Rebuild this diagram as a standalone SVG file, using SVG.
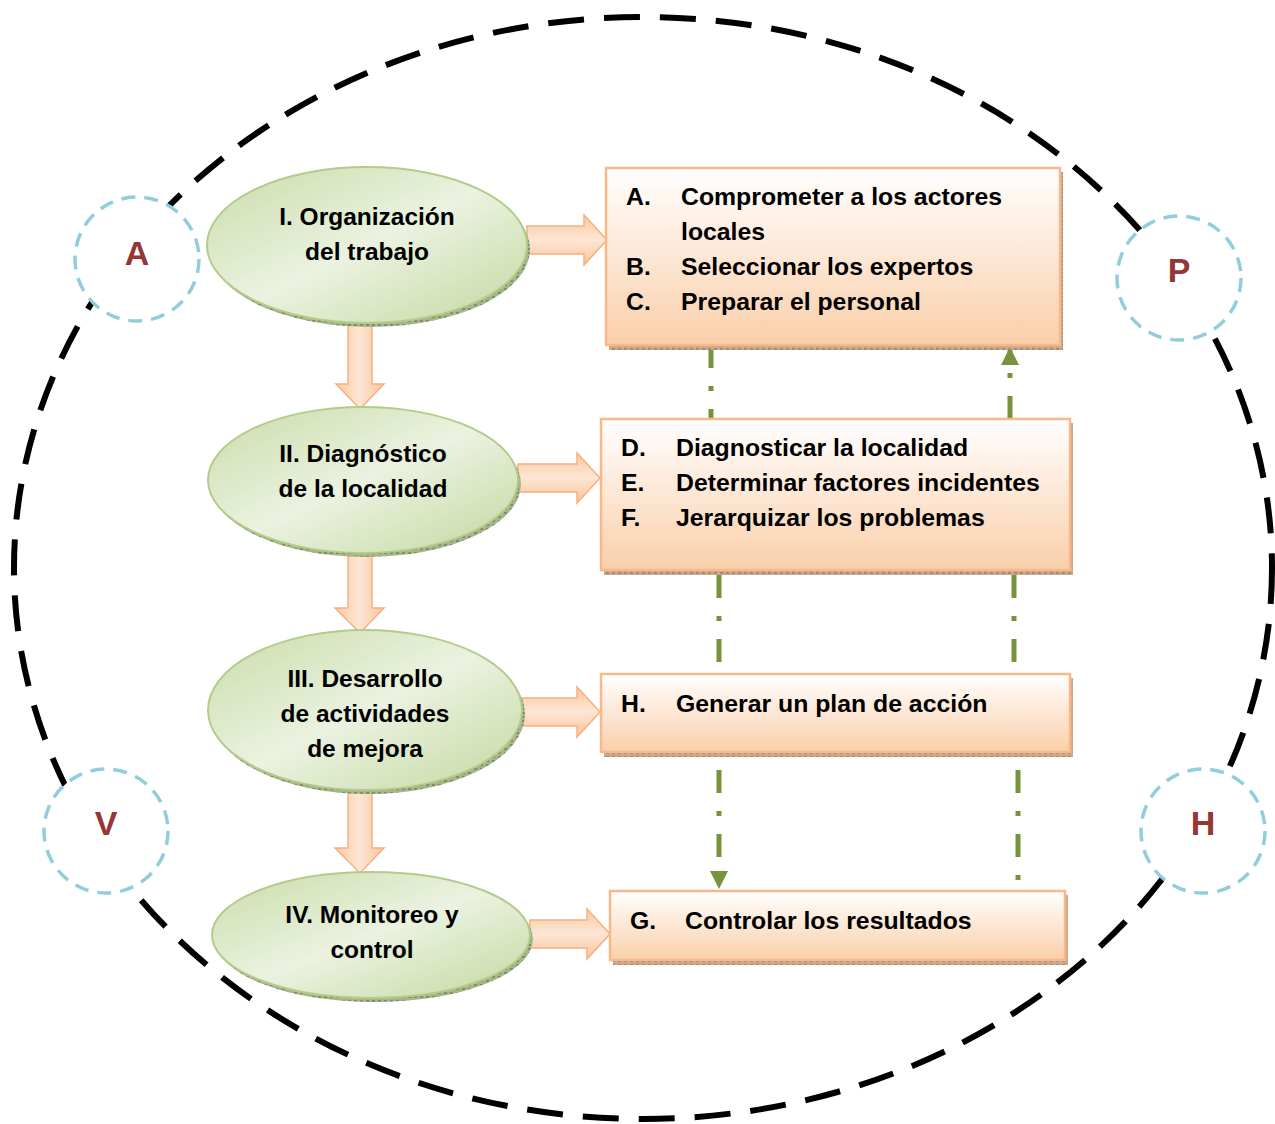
<svg xmlns="http://www.w3.org/2000/svg" width="1275" height="1124" viewBox="0 0 1275 1124">
<defs>
<linearGradient id="gEll" x1="0" y1="0" x2="1" y2="1">
<stop offset="0" stop-color="#c9dca8"/>
<stop offset="0.5" stop-color="#ebf2e0"/>
<stop offset="1" stop-color="#c4d89f"/>
</linearGradient>
<linearGradient id="gBox" x1="0" y1="0" x2="0" y2="1">
<stop offset="0" stop-color="#ffffff"/>
<stop offset="0.45" stop-color="#fde9d9"/>
<stop offset="1" stop-color="#f9cfa9"/>
</linearGradient>
<linearGradient id="gArrH" x1="0" y1="0" x2="0" y2="1">
<stop offset="0" stop-color="#f9c9a0"/>
<stop offset="0.5" stop-color="#fde6d4"/>
<stop offset="1" stop-color="#f9c39a"/>
</linearGradient>
<linearGradient id="gArrV" x1="0" y1="0" x2="1" y2="0">
<stop offset="0" stop-color="#f9c9a0"/>
<stop offset="0.5" stop-color="#fde6d4"/>
<stop offset="1" stop-color="#f9c39a"/>
</linearGradient>
<pattern id="tex" width="6" height="4" patternUnits="userSpaceOnUse">
<rect width="6" height="4" fill="#c9a98e"/>
<rect width="3" height="2" fill="#a88a70"/>
</pattern>
<pattern id="texG" width="6" height="4" patternUnits="userSpaceOnUse">
<rect width="6" height="4" fill="#a6b68a"/>
<rect width="3" height="2" fill="#7f8f68"/>
</pattern>
<marker id="mh" viewBox="0 0 10 10" refX="10" refY="5" markerWidth="3.6" markerHeight="3.6" orient="auto" markerUnits="strokeWidth">
<path d="M0,0 L10,5 L0,10 z" fill="#77933c"/>
</marker>
</defs>
<style>
.big{fill:none;stroke:#000;stroke-width:6;stroke-dasharray:36 20}
.circ{fill:#fff;stroke:#92cddc;stroke-width:3.5;stroke-dasharray:14 9}
.lbl{font-family:"Liberation Sans",Arial,sans-serif;font-weight:bold;font-size:34px;fill:#953735;text-anchor:middle}
.ell{fill:url(#gEll);stroke:#b3cc8a;stroke-width:2}
.ells{fill:url(#texG)}
.box{fill:url(#gBox);stroke:#f8b88a;stroke-width:2.5}
.boxs{fill:url(#tex)}
.t{font-family:"Liberation Sans",Arial,sans-serif;font-weight:bold;font-size:24.8px;fill:#000}
.tc{font-family:"Liberation Sans",Arial,sans-serif;font-weight:bold;font-size:24.5px;fill:#000;text-anchor:middle}
.ah{fill:url(#gArrH);stroke:#f7b080;stroke-width:1.5}
.av{fill:url(#gArrV);stroke:#f7b080;stroke-width:1.5}
.con{fill:none;stroke:#77933c;stroke-width:5;stroke-dasharray:23 18 5 18}
</style>
<ellipse class="big" cx="643" cy="568" rx="629" ry="551"/>
<g id="circleA"><circle class="circ" cx="137" cy="259" r="62"/><text class="lbl" x="137" y="265">A</text></g>
<g id="circleP"><circle class="circ" cx="1179" cy="278" r="62"/><text class="lbl" x="1179" y="282">P</text></g>
<g id="circleV"><circle class="circ" cx="106" cy="831" r="62"/><text class="lbl" x="106" y="835">V</text></g>
<g id="circleH"><circle class="circ" cx="1203" cy="831" r="62"/><text class="lbl" x="1203" y="835">H</text></g>

<g id="arrows">
<path class="ah" d="M527,226 H584 V215 L607,240 L584,265 V254 H527 z"/>
<path class="ah" d="M518,464 H577 V453 L600,478 L577,503 V492 H518 z"/>
<path class="ah" d="M522,698 H577 V687 L600,712 L577,737 V726 H522 z"/>
<path class="ah" d="M530,920 H587 V909 L610,934 L587,959 V948 H530 z"/>
<path class="av" d="M348,324 V384 H336 L360,409 L384,384 H372 V324 z"/>
<path class="av" d="M348,550 V608 H335 L360,633 L384,608 H372 V550 z"/>
<path class="av" d="M348,790 V848 H335 L360,873 L384,848 H372 V790 z"/>
<path class="con" d="M711,345 V419"/>
<path class="con" d="M1010,419 V347" marker-end="url(#mh)"/>
<path class="con" d="M719,575 V674"/>
<path class="con" d="M1014,575 V674"/>
<path class="con" d="M719,770 V889" marker-end="url(#mh)"/>
<path class="con" d="M1018,770 V880"/>
</g>

<g id="node1">
<ellipse class="ells" cx="370" cy="249" rx="160" ry="78"/>
<ellipse class="ell" cx="367" cy="245" rx="160" ry="78"/>
<text class="tc" x="367" y="225">I. Organización</text>
<text class="tc" x="367" y="260">del trabajo</text>
</g>
<g id="node2">
<ellipse class="ells" cx="366" cy="484" rx="155" ry="73"/>
<ellipse class="ell" cx="363" cy="480" rx="155" ry="73"/>
<text class="tc" x="363" y="462">II. Diagnóstico</text>
<text class="tc" x="363" y="497">de la localidad</text>
</g>
<g id="node3">
<ellipse class="ells" cx="368" cy="714" rx="157" ry="80"/>
<ellipse class="ell" cx="365" cy="710" rx="157" ry="80"/>
<text class="tc" x="365" y="687">III. Desarrollo</text>
<text class="tc" x="365" y="722">de actividades</text>
<text class="tc" x="365" y="757">de mejora</text>
</g>
<g id="node4">
<ellipse class="ells" cx="374" cy="939" rx="159" ry="63"/>
<ellipse class="ell" cx="371" cy="935" rx="159" ry="63"/>
<text class="tc" x="372" y="923">IV. Monitoreo y</text>
<text class="tc" x="372" y="958">control</text>
</g>

<g id="box1">
<rect class="boxs" x="609" y="172" width="454" height="178"/>
<rect class="box" x="606" y="168" width="454" height="177"/>
<text class="t" x="626" y="205">A.</text><text class="t" x="681" y="205">Comprometer a los actores</text>
<text class="t" x="681" y="240">locales</text>
<text class="t" x="626" y="275">B.</text><text class="t" x="681" y="275">Seleccionar los expertos</text>
<text class="t" x="626" y="310">C.</text><text class="t" x="681" y="310">Preparar el personal</text>
</g>
<g id="box2">
<rect class="boxs" x="604" y="423" width="469" height="152"/>
<rect class="box" x="601" y="419" width="469" height="151"/>
<text class="t" x="621" y="456">D.</text><text class="t" x="676" y="456">Diagnosticar la localidad</text>
<text class="t" x="621" y="491">E.</text><text class="t" x="676" y="491">Determinar factores incidentes</text>
<text class="t" x="621" y="526">F.</text><text class="t" x="676" y="526">Jerarquizar los problemas</text>
</g>
<g id="box3">
<rect class="boxs" x="604" y="678" width="469" height="79"/>
<rect class="box" x="601" y="674" width="469" height="78"/>
<text class="t" x="621" y="712">H.</text><text class="t" x="676" y="712">Generar un plan de acción</text>
</g>
<g id="box4">
<rect class="boxs" x="613" y="895" width="455" height="70"/>
<rect class="box" x="610" y="891" width="455" height="69"/>
<text class="t" x="630" y="929">G.</text><text class="t" x="685" y="929">Controlar los resultados</text>
</g>
</svg>
